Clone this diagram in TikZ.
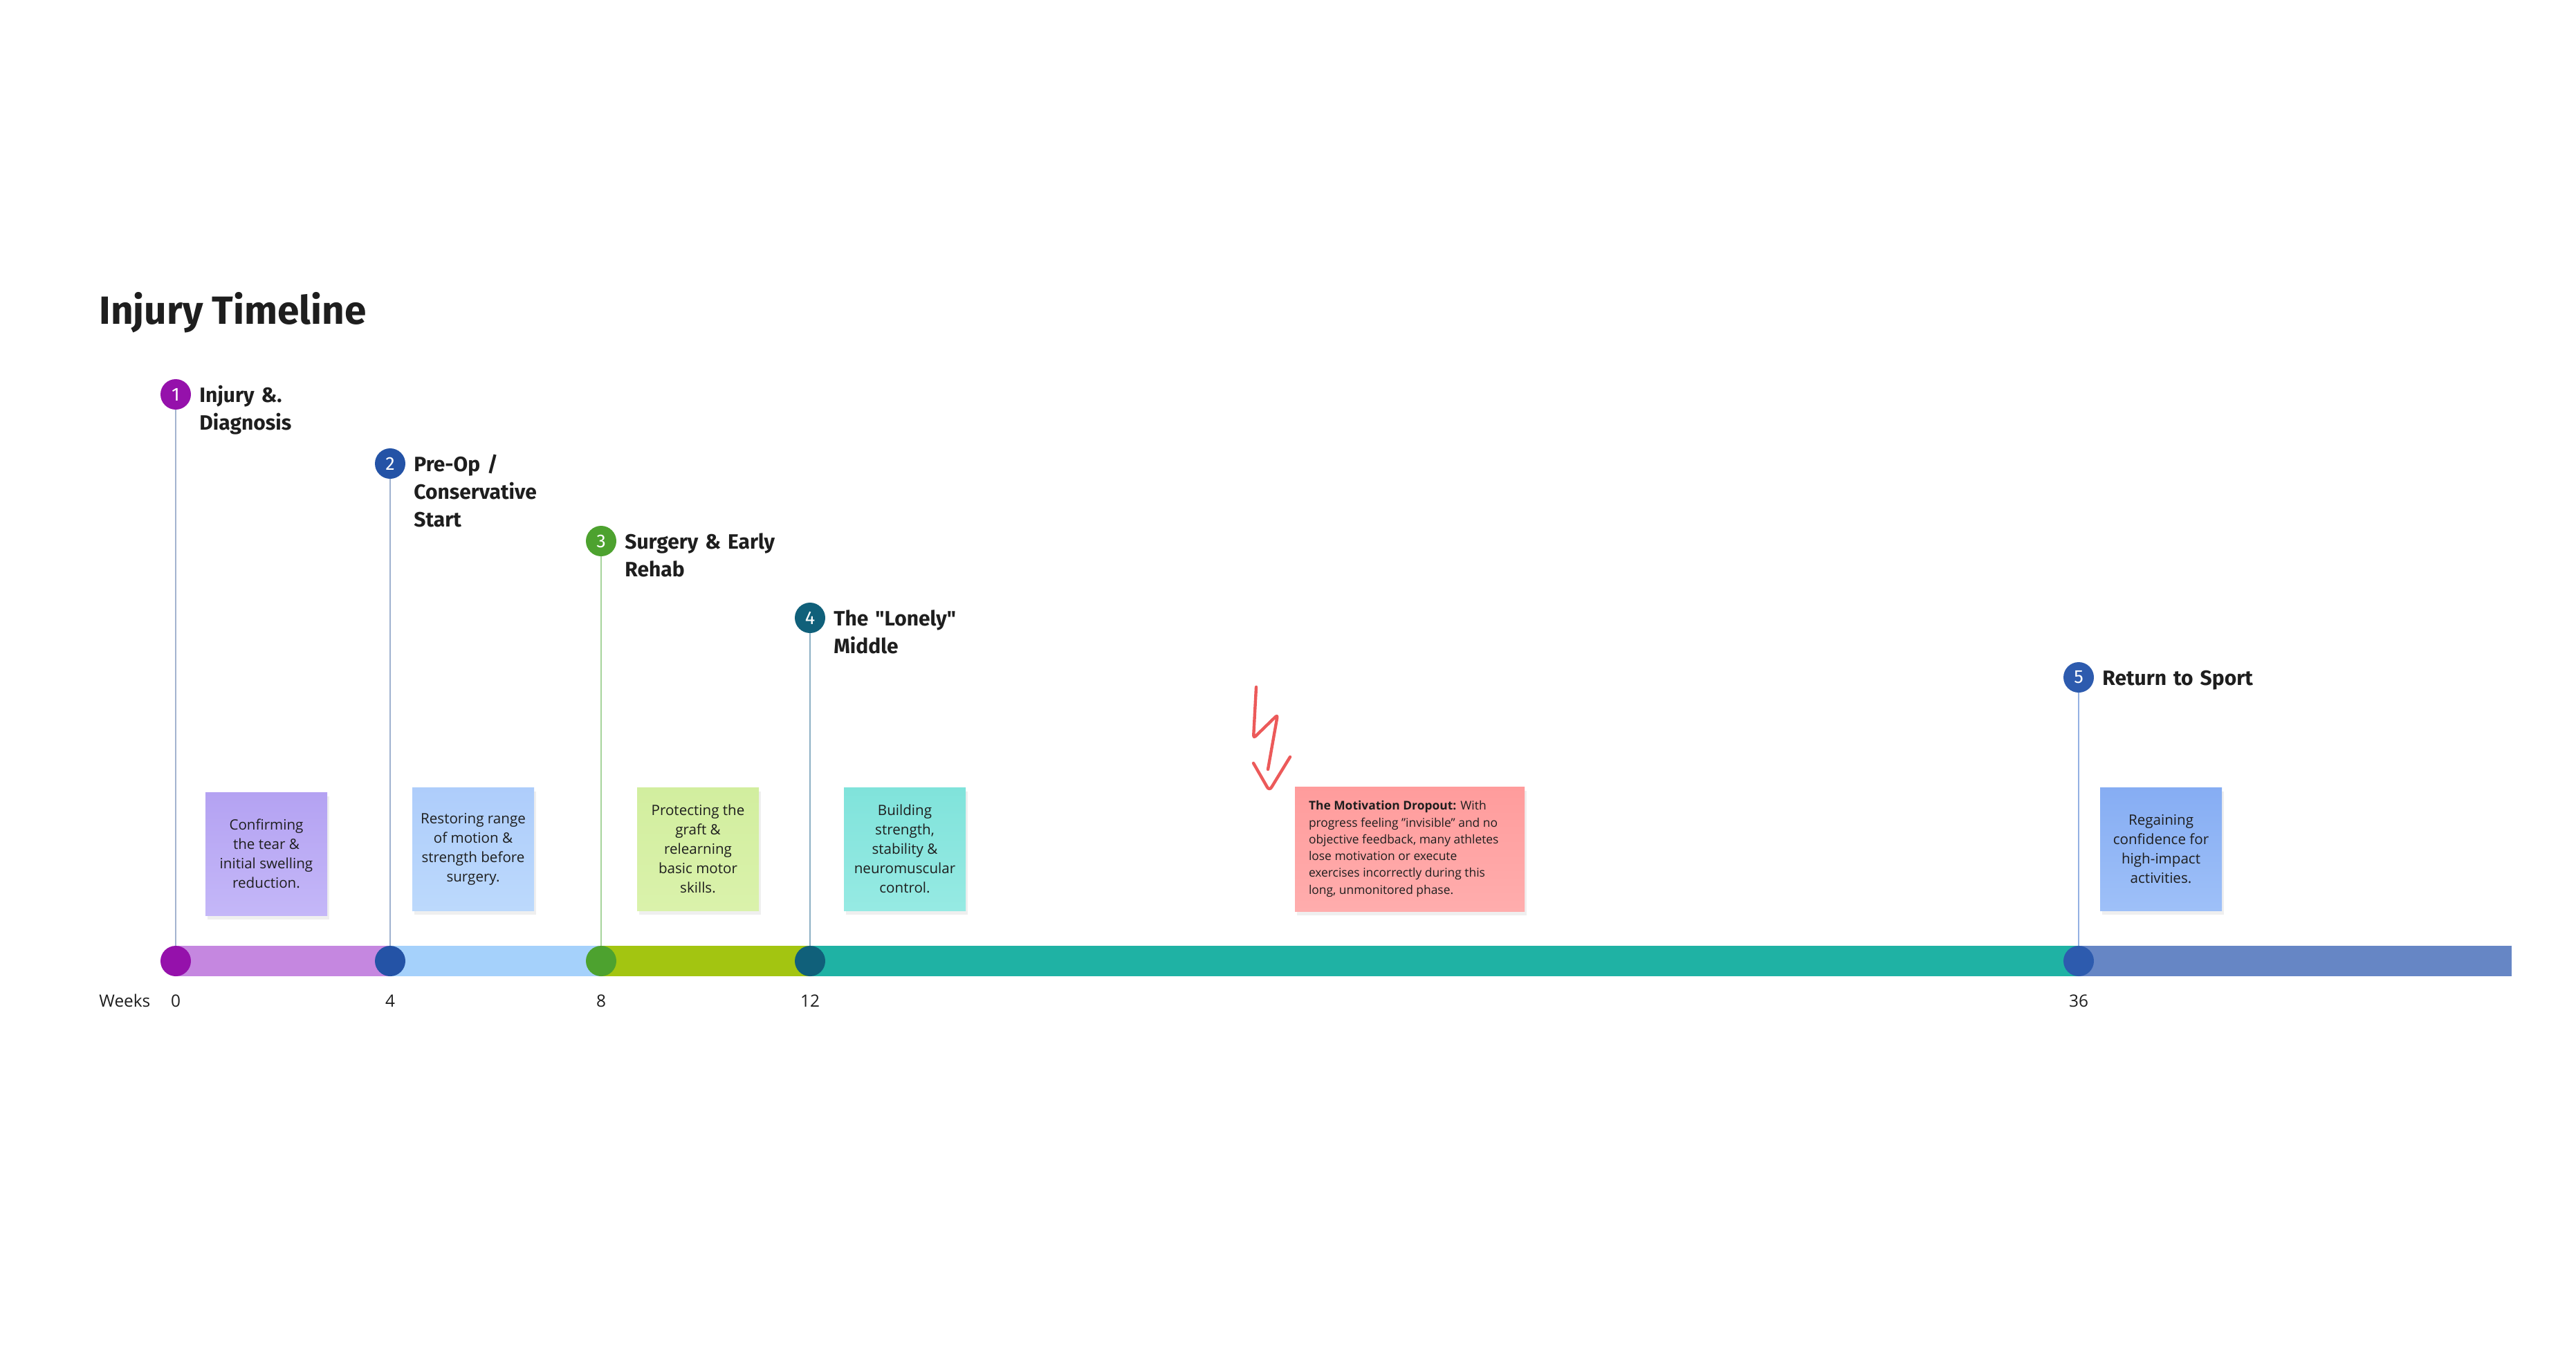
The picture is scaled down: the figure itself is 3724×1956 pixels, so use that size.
\documentclass[tikz,border=0pt]{standalone}
\usepackage{fontspec}
\setmainfont{Open Sans}
\newfontfamily\headfont{Fira Sans}
\usetikzlibrary{shadows}

\definecolor{cPurple}{HTML}{9511AB}
\definecolor{cBlue}{HTML}{2453A6}
\definecolor{cGreen}{HTML}{4DA22F}
\definecolor{cDark}{HTML}{10607A}
\definecolor{cBlue5}{HTML}{2D5BAE}
\definecolor{sPurple}{HTML}{C587E0}
\definecolor{sBlue}{HTML}{A5D1FB}
\definecolor{sGreen}{HTML}{A3C511}
\definecolor{sTeal}{HTML}{1FB2A4}
\definecolor{sSlate}{HTML}{6686C5}
\definecolor{vA}{HTML}{A3B3CF}
\definecolor{vB}{HTML}{9FB2CF}
\definecolor{vC}{HTML}{A6D49B}
\definecolor{vD}{HTML}{8DB0C4}
\definecolor{vE}{HTML}{93B0E3}
\definecolor{txt}{HTML}{1E1E1E}
\definecolor{scrib}{HTML}{EC5A5A}
\definecolor{n1a}{HTML}{B4A2F2}\definecolor{n1b}{HTML}{C4B7F8}
\definecolor{n2a}{HTML}{AECDFB}\definecolor{n2b}{HTML}{BCD9FC}
\definecolor{n3a}{HTML}{D2EE9F}\definecolor{n3b}{HTML}{DAF2AB}
\definecolor{n4a}{HTML}{80E3DB}\definecolor{n4b}{HTML}{96EAE3}
\definecolor{n5a}{HTML}{FF9C9C}\definecolor{n5b}{HTML}{FFADAD}
\definecolor{n6a}{HTML}{86ADF3}\definecolor{n6b}{HTML}{9EC0F8}

\begin{document}
\begin{tikzpicture}[x=0.5pt,y=-0.5pt,
  hcirc/.style={circle, minimum size=22pt, inner sep=0pt, text=white,
    font=\headfont\fontsize{13.5}{13.5}\selectfont},
  hlabel/.style={anchor=base west, text width=170pt, align=left, inner sep=0pt,
    text=txt, font=\headfont\bfseries\fontsize{15}{20}\selectfont},
  bcirc/.style={circle, minimum size=22pt, inner sep=0pt},
  note/.style={minimum width=88pt, minimum height=89pt, inner sep=3pt,
    align=center, text=txt, font=\fontsize{10.3}{14}\selectfont,
    drop shadow={opacity=0.12, shadow xshift=1.5pt, shadow yshift=-3pt}},
  wk/.style={anchor=base, inner sep=0pt, text=txt, font=\fontsize{12.2}{14}\selectfont},
  vline/.style={line width=1pt}
]
\useasboundingbox[fill=white] (0,0) rectangle (3724,1956);

% title
\node[anchor=base west, inner sep=0pt, text=txt,
  font=\headfont\bfseries\fontsize{28.4}{34}\selectfont] (title) at (143,468) {Injury Timeline};

% bar segments
\fill[sPurple] (254,1367) rectangle (564,1411);
\fill[sBlue]   (564,1367) rectangle (869,1411);
\fill[sGreen]  (869,1367) rectangle (1171,1411);
\fill[sTeal]   (1171,1367) rectangle (3005,1411);
\fill[sSlate]  (3005,1367) rectangle (3631,1411);

% bar circles
\node[bcirc, fill=cPurple] (b0)  at (254,1389) {};
\node[bcirc, fill=cBlue]   (b4)  at (564,1389) {};
\node[bcirc, fill=cGreen]  (b8)  at (869,1389) {};
\node[bcirc, fill=cDark]   (b12) at (1171,1389) {};
\node[bcirc, fill=cBlue5]  (b36) at (3005,1389) {};

% header circles
\node[hcirc, fill=cPurple] (h1) at (254,570) {1};
\node[hcirc, fill=cBlue]   (h2) at (564,670) {2};
\node[hcirc, fill=cGreen]  (h3) at (869,782) {3};
\node[hcirc, fill=cDark]   (h4) at (1171,893) {4};
\node[hcirc, fill=cBlue5]  (h5) at (3005,979) {5};

% header labels
\node[hlabel] (l1) at (288,581) {Injury \&.\\Diagnosis};
\node[hlabel] (l2) at (598,681) {Pre-Op /\\Conservative\\Start};
\node[hlabel] (l3) at (903,793) {Surgery \& Early\\Rehab};
\node[hlabel] (l4) at (1205,904) {The "Lonely"\\Middle};
\node[hlabel] (l5) at (3039,990) {Return to Sport};

% vertical connectors
\draw[vline, vA] (h1.south) -- (b0.north);
\draw[vline, vB] (h2.south) -- (b4.north);
\draw[vline, vC] (h3.south) -- (b8.north);
\draw[vline, vD] (h4.south) -- (b12.north);
\draw[vline, vE] (h5.south) -- (b36.north);

% notes
\node[note, top color=n1a, bottom color=n1b] (n1) at (385,1234)
  {Confirming\\the tear \&\\initial swelling\\reduction.};
\node[note, top color=n2a, bottom color=n2b] (n2) at (684,1227)
  {Restoring range\\of motion \&\\strength before\\surgery.};
\node[note, top color=n3a, bottom color=n3b] (n3) at (1009,1227)
  {Protecting the\\graft \&\\relearning\\basic motor\\skills.};
\node[note, top color=n4a, bottom color=n4b] (n4) at (1308,1227)
  {Building\\strength,\\stability \&\\neuromuscular\\control.};
\node[note, minimum width=166pt, minimum height=90pt,
  top color=n5a, bottom color=n5b] (n5) at (2038,1227) {};
\node[anchor=west, align=left, inner sep=0pt, text=txt,
  font=\fontsize{8.7}{12.15}\selectfont] (n5t) at ([xshift=10pt]n5.west)
  {\textbf{The Motivation Dropout:} With\\progress feeling "invisible" and no\\objective feedback, many athletes\\lose motivation or execute\\exercises incorrectly during this\\long, unmonitored phase.};
\node[note, top color=n6a, bottom color=n6b] (n6) at (3124,1227)
  {Regaining\\confidence for\\high-impact\\activities.};

% week labels
\node[wk, anchor=base west] (wks) at (143,1455) {Weeks};
\node[wk] (w0)  at (254,1455) {0};
\node[wk] (w4)  at (564,1455) {4};
\node[wk] (w8)  at (869,1455) {8};
\node[wk] (w12) at (1171,1455) {12};
\node[wk] (w36) at (3005,1455) {36};

% red scribble arrow
\draw[scrib, line width=2.2pt, line cap=round, line join=round, rounded corners=2pt]
  (1816,993) -- (1812,1067) -- (1847,1033) -- (1833,1112);
\draw[scrib, line width=2.2pt, line cap=round, line join=round, rounded corners=3pt]
  (1812,1103) -- (1835,1143) -- (1865,1094);
\end{tikzpicture}
\end{document}
